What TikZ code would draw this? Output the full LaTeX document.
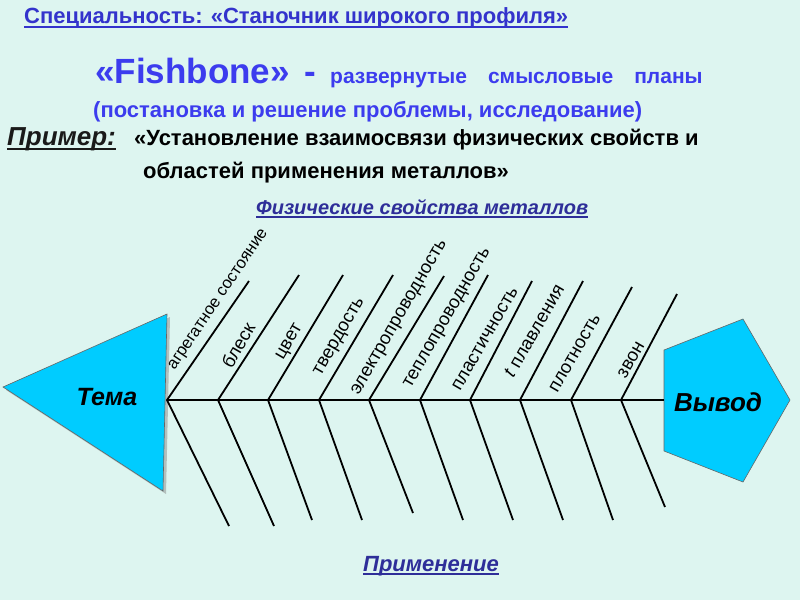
\documentclass[tikz,border=0pt]{standalone}
\usepackage{fontspec}
\setmainfont{Liberation Sans}
\usetikzlibrary{shadows}
\definecolor{bgc}{HTML}{DDF5F0}
\definecolor{fishc}{HTML}{00CCFF}
\definecolor{titleblue}{HTML}{3333CC}
\definecolor{brightblue}{HTML}{3C3CEE}
\definecolor{navy}{HTML}{2E2E99}
\definecolor{darktext}{HTML}{1A1A1A}
\newcommand{\fsz}[1]{\fontsize{#1}{#1}\selectfont}
\tikzset{
  txt/.style={inner sep=0pt, anchor=base west},
  bone/.style={line width=1.8pt, black},
  spineline/.style={line width=2.6pt, black},
  lbl/.style={inner sep=0pt, rotate=60, font=\fsz{18.5}, anchor=center},
  fishshape/.style={fill=fishc, draw=black!60, line width=0.6pt},
  uline/.style={line width=1.4pt},
}
\begin{document}
\begin{tikzpicture}[x=1pt,y=-1pt]
\fill[bgc] (0,0) rectangle (800,600);
\useasboundingbox (0,0) rectangle (800,600);

% header texts
\node[txt, text=titleblue, font=\bfseries\fsz{22}] (spec) at (24,23) {Специальность: «Станочник широкого профиля»};
\draw[uline, titleblue] ([yshift=-4pt]spec.base west) -- ([yshift=-4pt]spec.base east);

\node[txt, text=brightblue, font=\bfseries\fsz{35}] (fish) at (95,83) {«Fishbone»};
\node[txt, text=brightblue, font=\bfseries\fsz{35}] (dash) at (304,83) {-};
\node[txt, text=brightblue, font=\bfseries\fsz{21}] (plans) at (330,83) {развернутые\hspace{1em}смысловые\hspace{1em}планы};
\node[txt, text=brightblue, font=\bfseries\fsz{22}] (paren) at (93,117) {(постановка и решение проблемы, исследование)};

\node[txt, text=darktext, font=\bfseries\itshape\fsz{26}] (ex) at (7,145) {Пример:};
\draw[uline, darktext] ([yshift=-4pt]ex.base west) -- ([yshift=-4pt]ex.base east);
\node[txt, text=black, font=\bfseries\fsz{22}] (ex1) at (134,145) {«Установление взаимосвязи физических свойств и};
\node[txt, text=black, font=\bfseries\fsz{22}] (ex2) at (143,178) {областей применения металлов»};

\node[txt, text=navy, font=\bfseries\itshape\fsz{20}] (phys) at (256,214) {Физические свойства металлов};
\draw[uline, navy] ([yshift=-3pt]phys.base west) -- ([yshift=-3pt]phys.base east);

\node[txt, text=navy, font=\bfseries\itshape\fsz{22}] (appl) at (363,571) {Применение};
\draw[uline, navy] ([yshift=-3pt]appl.base west) -- ([yshift=-3pt]appl.base east);

% head (triangle) and tail (pentagon)
\coordinate (h1) at (3,387);
\coordinate (h2) at (167,314);
\coordinate (h3) at (163,491);
\path[fishshape, drop shadow={shadow xshift=3pt, shadow yshift=-3pt, opacity=0.45}] (h1) -- (h2) -- (h3) -- cycle;
\node[font=\bfseries\itshape\fsz{25}, inner sep=0pt] (tema) at (107,397) {Тема};

\coordinate (p1) at (664,350);
\coordinate (p2) at (743,319);
\coordinate (p3) at (790,400);
\coordinate (p4) at (743,482);
\coordinate (p5) at (664,451);
\path[fishshape] (p1) -- (p2) -- (p3) -- (p4) -- (p5) -- cycle;
\node[font=\bfseries\itshape\fsz{26}, inner sep=0pt] (vyvod) at (718,402) {Вывод};

% spine
\coordinate (pend) at (664,400);
\foreach \i/\x in {1/167,2/218,3/268,4/319,5/369,6/420,7/470,8/520,9/571,10/621}
  \coordinate (s\i) at (\x,400);
\foreach \i/\x/\y in {1/249/281,2/299/275,3/343/275,4/393/275,5/444/276,6/488/275,7/532/281,8/583/281,9/632/287,10/677/294}
  \coordinate (t\i) at (\x,\y);
\foreach \i/\x/\y in {1/229/526,2/274/526,3/312/520,4/362/520,5/413/513,6/463/520,7/513/520,8/563/520,9/613/520,10/665/507}
  \coordinate (b\i) at (\x,\y);

\foreach \i in {1,...,10} {
  \draw[bone] (t\i) -- (s\i) -- (b\i);
}
\draw[spineline] (s1) -- (pend);

% labels
\node[lbl, rotate=-4, font=\fsz{16.5}] (l1) at (219,300) {агрегатное состояние};
\node[lbl] (l2) at (238,345) {блеск};
\node[lbl] (l3) at (290,342) {цвет};
\node[lbl] (l4) at (340,337) {твердость};
\node[lbl] (l5) at (400,318) {электропроводность};
\node[lbl] (l6) at (448,318) {теплопроводность};
\node[lbl] (l7) at (485,339) {пластичность};
\node[lbl] (l8) at (534,331) {\textit{t} плавления};
\node[lbl] (l9) at (575,353) {плотность};
\node[lbl] (l10) at (631,360) {звон};
\end{tikzpicture}
\end{document}
